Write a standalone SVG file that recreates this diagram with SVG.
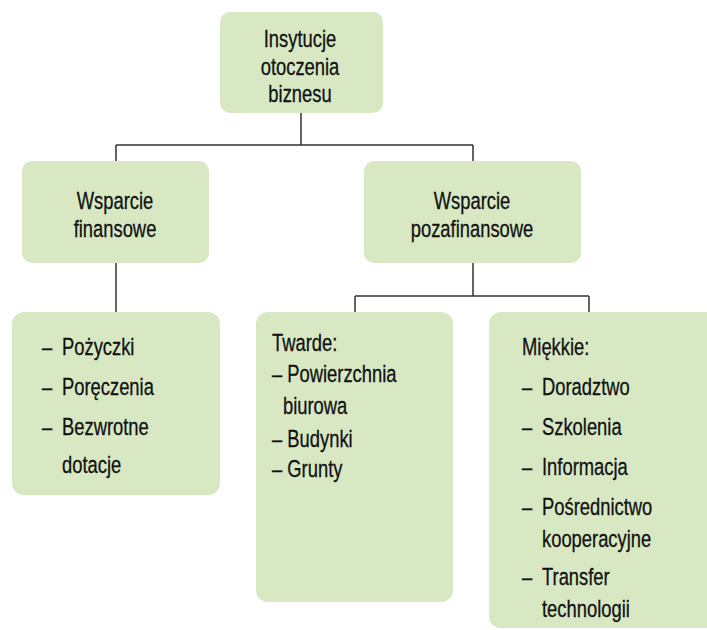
<svg xmlns="http://www.w3.org/2000/svg" width="707" height="630" viewBox="0 0 707 630">
<style>
.box{fill:#d7e8c3;}
.t{font-family:'Liberation Sans',Arial,sans-serif;font-size:24.5px;fill:#111;stroke:#111;stroke-width:0.3px;}
.c{text-anchor:middle;}
.ln{stroke:#333;stroke-width:1.5;fill:none;}
</style>
<rect width="707" height="630" fill="#fff"/>
<g id="connectors">
<path class="ln" d="M301 113V145M116 145H473M116 145V161M473 145V161"/>
<path class="ln" d="M116 263V312"/>
<path class="ln" d="M473 263V296M355 296H589M355 296V312M589 296V312"/>
</g>
<g id="root">
<rect class="box" x="220" y="12" width="163" height="101" rx="10"/>
<text class="t c" transform="translate(300 47) scale(.75 1)">Insytucje</text>
<text class="t c" transform="translate(300 74.5) scale(.75 1)">otoczenia</text>
<text class="t c" transform="translate(300 102) scale(.75 1)">biznesu</text>
</g>
<g id="finansowe">
<rect class="box" x="22" y="161" width="187" height="102" rx="10"/>
<text class="t c" transform="translate(115 209) scale(.75 1)">Wsparcie</text>
<text class="t c" transform="translate(115 237) scale(.75 1)">finansowe</text>
</g>
<g id="pozafinansowe">
<rect class="box" x="364" y="161" width="217" height="102" rx="10"/>
<text class="t c" transform="translate(472 209) scale(.75 1)">Wsparcie</text>
<text class="t c" transform="translate(472 237) scale(.75 1)">pozafinansowe</text>
</g>
<g id="finansowe-list">
<rect class="box" x="12" y="312" width="208" height="183" rx="12"/>
<text class="t" transform="translate(42 355) scale(.75 1)">–</text><text class="t" transform="translate(62 355) scale(.75 1)">Pożyczki</text>
<text class="t" transform="translate(42 395) scale(.75 1)">–</text><text class="t" transform="translate(62 395) scale(.75 1)">Poręczenia</text>
<text class="t" transform="translate(42 435) scale(.75 1)">–</text><text class="t" transform="translate(62 435) scale(.75 1)">Bezwrotne</text>
<text class="t" transform="translate(62 473) scale(.75 1)">dotacje</text>
</g>
<g id="twarde">
<rect class="box" x="256" y="312" width="197" height="290" rx="12"/>
<text class="t" transform="translate(272 351) scale(.75 1)">Twarde:</text>
<text class="t" transform="translate(272 382) scale(.75 1)">– Powierzchnia</text>
<text class="t" transform="translate(283 414) scale(.75 1)">biurowa</text>
<text class="t" transform="translate(272 447) scale(.75 1)">– Budynki</text>
<text class="t" transform="translate(272 477) scale(.75 1)">– Grunty</text>
</g>
<g id="miekkie">
<rect class="box" x="489" y="312" width="240" height="316" rx="12"/>
<text class="t" transform="translate(522 355) scale(.75 1)">Miękkie:</text>
<text class="t" transform="translate(522 395) scale(.75 1)">–</text><text class="t" transform="translate(542 395) scale(.75 1)">Doradztwo</text>
<text class="t" transform="translate(522 435) scale(.75 1)">–</text><text class="t" transform="translate(542 435) scale(.75 1)">Szkolenia</text>
<text class="t" transform="translate(522 475) scale(.75 1)">–</text><text class="t" transform="translate(542 475) scale(.75 1)">Informacja</text>
<text class="t" transform="translate(522 515) scale(.75 1)">–</text><text class="t" transform="translate(542 515) scale(.75 1)">Pośrednictwo</text>
<text class="t" transform="translate(542 547) scale(.75 1)">kooperacyjne</text>
<text class="t" transform="translate(522 585) scale(.75 1)">–</text><text class="t" transform="translate(542 585) scale(.75 1)">Transfer</text>
<text class="t" transform="translate(542 617) scale(.75 1)">technologii</text>
</g>
</svg>
